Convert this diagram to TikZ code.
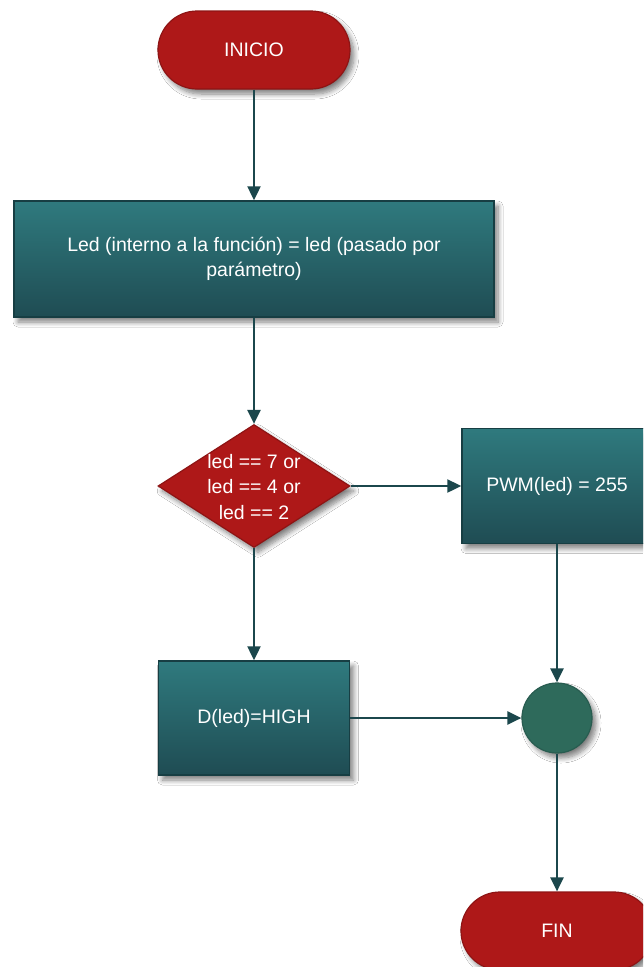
\documentclass[tikz,border=0pt]{standalone}
\usepackage{fontspec}
\setmainfont{Liberation Sans}
\usetikzlibrary{shapes.geometric,shadows.blur,arrows.meta}
\definecolor{termred}{HTML}{AE1818}
\definecolor{termedge}{HTML}{8E1414}
\definecolor{procTop}{HTML}{2F7A7E}
\definecolor{procBot}{HTML}{1F4C53}
\definecolor{procEdge}{HTML}{173E43}
\definecolor{joinfill}{HTML}{2E6A5B}
\definecolor{joinedge}{HTML}{285C50}
\definecolor{flow}{HTML}{1B474C}
\tikzset{
  shade/.style={blur shadow={shadow xshift=4pt,shadow yshift=-5pt,shadow blur steps=8,shadow blur radius=5pt,shadow opacity=50}},
  txt/.style={text=white,font=\fontsize{19.5}{25.5}\selectfont,align=center},
  terminal/.style={shade,rectangle,rounded corners=39pt,minimum width=192pt,minimum height=78pt,
    fill=termred,draw=termedge,line width=1.2pt,txt},
  process/.style={shade,rectangle,top color=procTop,bottom color=procBot,draw=procEdge,line width=1.5pt,txt},
  decision/.style={shade,diamond,fill=termred,draw=termedge,line width=1.2pt,minimum width=192pt,minimum height=123pt,inner sep=0pt},
  joint/.style={shade,circle,fill=joinfill,draw=joinedge,line width=1.2pt,minimum size=70pt,inner sep=0pt},
  arr/.style={draw=flow,line width=2.4pt,-{Triangle[length=14pt,width=13pt]}},
}
\begin{document}
\begin{tikzpicture}[x=1pt,y=-1pt]
\useasboundingbox (0,0) rectangle (643,967);
\clip (0,0) rectangle (643,967);
\fill[white] (0,0) rectangle (643,967);

\node[terminal] (inicio) at (254,50) {INICIO};
\node[process,minimum width=480pt,minimum height=116pt] (asig) at (254,259)
  {Led (interno a la función) = led (pasado por\\parámetro)};
\node[decision] (cond) at (254,486) {};
\node[txt] (condtxt) at (254,487) {led == 7 or\\led == 4 or\\led == 2};
\node[process,minimum width=190pt,minimum height=115pt] (pwm) at (557,486) {PWM(led) = 255};
\node[process,minimum width=191pt,minimum height=114pt] (dig) at (254,718) {D(led)=HIGH};
\node[joint] (merge) at (557,718) {};
\node[terminal] (fin) at (557,931) {FIN};

\draw[arr] (inicio) -- (asig);
\draw[arr] (asig) -- (cond);
\draw[arr] (cond.east) -- (pwm.west);
\draw[arr] (cond.south) -- (dig.north);
\draw[arr] (pwm) -- (merge);
\draw[arr] (dig) -- (merge);
\draw[arr] (merge) -- (fin);
\end{tikzpicture}
\end{document}
